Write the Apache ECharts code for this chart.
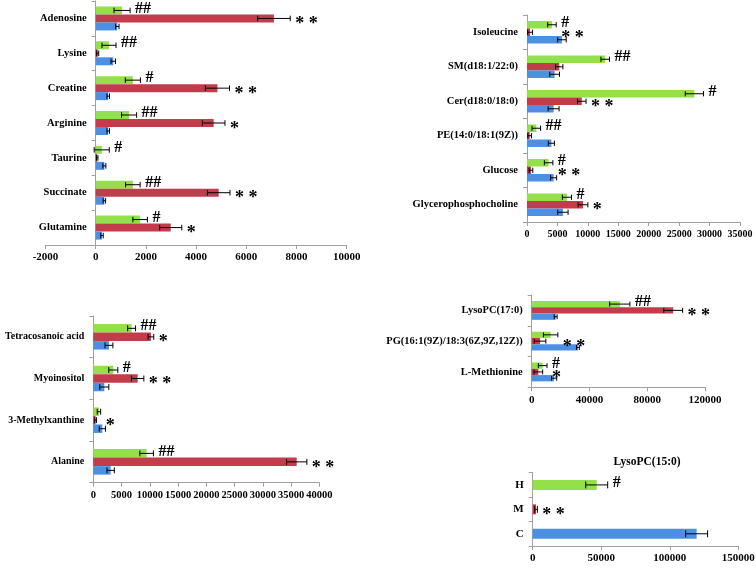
<!DOCTYPE html>
<html><head><meta charset="utf-8">
<script src="https://cdn.jsdelivr.net/npm/echarts/dist/echarts.min.js"></script>
<style>html,body{margin:0;padding:0;background:#fff}#c{width:756px;height:572px}</style>
</head><body><div id="c"></div><script>
// ---- Panel A ----
const catA = ['Adenosine','Lysine','Creatine','Arginine','Taurine','Succinate','Glutamine'];
const hA = [1050, 530, 1480, 1330, 240, 1480, 1770];
const hAerr = [320, 280, 300, 300, 300, 290, 290];
const mA = [7100, 80, 4850, 4700, 60, 4900, 2990];
const mAerr = [650, 40, 480, 450, 30, 450, 440];
const cA = [860, 700, 500, 500, 345, 345, 250];
const cAerr = [70, 90, 50, 50, 60, 50, 50];
const hAsig = ['##','##','#','##','#','##','#'];
const mAsig = ['**','','**','*','','**','*'];
const ticksA = {min:-2000, max:10000, interval:2000};
// ---- Panel B ----
const catB = ['Isoleucine','SM(d18:1/22:0)','Cer(d18:0/18:0)','PE(14:0/18:1(9Z))','Glucose','Glycerophosphocholine'];
const hB = [4100, 12850, 27500, 1530, 3550, 6560];
const hBerr = [700, 700, 1500, 700, 700, 750];
const mB = [500, 5300, 9000, 440, 650, 9200];
const mBerr = [400, 600, 700, 300, 300, 800];
const cB = [5740, 4540, 4370, 4000, 4370, 5900];
const cBerr = [700, 800, 900, 500, 500, 850];
const hBsig = ['#','##','#','##','#','#'];
const mBsig = ['**','','**','','**','*'];
const ticksB = {min:0, max:35000, interval:5000};
// ---- Panel C ----
const catC = ['Tetracosanoic acid','Myoinositol','3-Methylxanthine','Alanine'];
const hC = [6780, 3540, 1000, 9440];
const hCerr = [700, 800, 300, 1200];
const mC = [10200, 7850, 400, 36000];
const mCerr = [500, 1100, 150, 1800];
const cC = [2770, 1950, 1600, 3070];
const cCerr = [700, 800, 550, 650];
const hCsig = ['##','#','','##'];
const mCsig = ['*','**','*','**'];
const ticksC = {min:0, max:40000, interval:5000};
// ---- Panel D ----
const catD = ['LysoPC(17:0)','PG(16:1(9Z)/18:3(6Z,9Z,12Z))','L-Methionine'];
const hD = [61000, 13100, 7600];
const hDerr = [7000, 5000, 3000];
const mD = [98000, 5800, 4600];
const mDerr = [6500, 4000, 3000];
const cD = [16600, 32000, 15500];
const cDerr = [1000, 1000, 1800];
const hDsig = ['##','','#'];
const mDsig = ['**','**','*'];
const ticksD = {min:0, max:120000, interval:40000};
// ---- Panel E ----
const titleE = 'LysoPC(15:0)';
const catE = ['H','M','C'];
const valE = [46700, 2400, 119600];
const errE = [8000, 1000, 8000];
const sigE = ['#','**',''];
const ticksE = {min:0, max:150000, interval:50000};

const COLORS = ['#93e04b','#c23c4c','#4d8fe3'];
const FONT = '"Liberation Serif","Times New Roman",serif';
const AX = '#a0a0a0';

const panels = [
  {cats:catA, vals:[hA,mA,cA], errs:[hAerr,mAerr,cAerr], sigs:[hAsig,mAsig,null], t:ticksA, grid:{left:45.5,top:1,width:301.2,height:244}, bw:8, xfs:11, yfs:10.5},
  {cats:catB, vals:[hB,mB,cB], errs:[hBerr,mBerr,cBerr], sigs:[hBsig,mBsig,null], t:ticksB, grid:{left:527,top:15,width:213,height:207}, bw:7.5, xfs:10, yfs:10.5},
  {cats:catC, vals:[hC,mC,cC], errs:[hCerr,mCerr,cCerr], sigs:[hCsig,mCsig,null], t:ticksC, grid:{left:93.3,top:316,width:226,height:166.7}, bw:8.5, xfs:10.5, yfs:10},
  {cats:catD, vals:[hD,mD,cD], errs:[hDerr,mDerr,cDerr], sigs:[hDsig,mDsig,null], t:ticksD, grid:{left:531.7,top:295,width:173.3,height:92.3}, bw:6.3, xfs:11, yfs:10.5}
];

const option = {animation:false, grid:[], xAxis:[], yAxis:[], series:[],
  graphic:[{type:'text', x:647, y:462, style:{text:titleE, font:'bold 11.5px '+FONT, fill:'#000', align:'center', verticalAlign:'middle'}}]};

function axes(gi, p, cats){
  option.grid.push(Object.assign({containLabel:false, outerBoundsMode:'none'}, p.grid));
  option.xAxis.push({gridIndex:gi, type:'value', min:p.t.min, max:p.t.max, interval:p.t.interval,
    splitLine:{show:false}, axisLine:{show:true, onZero:false, lineStyle:{color:AX}},
    axisTick:{show:true, length:4, lineStyle:{color:AX}},
    axisLabel:{color:'#000', fontFamily:FONT, fontWeight:'bold', fontSize:p.xfs, margin:7,
      formatter: v => String(v)}});
  // category axis sits on the value 0 line
  const zeroOff = -(0 - p.t.min) / (p.t.max - p.t.min) * p.grid.width;
  option.yAxis.push({gridIndex:gi, type:'category', data:cats, inverse:true, offset:zeroOff,
    axisLine:{show:true, onZero:false, lineStyle:{color:AX}}, axisTick:{show:true, length:4, lineStyle:{color:AX}},
    axisLabel:{color:'#000', fontFamily:FONT, fontWeight:'bold', fontSize:p.yfs || 11, margin:9, interval:0}});
}

function overlay(gi, items, bw, nS){
  return {type:'custom', xAxisIndex:gi, yAxisIndex:gi, clip:false, silent:true, z:10,
    data: items.map(it=>[it.v, it.cat]), encode:{x:0, y:1},
    renderItem(params, api){
      const it = items[params.dataIndex];
      const c = api.coord([it.v, it.cat]);
      const yc = c[1] + (it.k - (nS-1)/2)*bw;
      const xl = api.coord([it.v - it.e, it.cat])[0];
      const xr = api.coord([it.v + it.e, it.cat])[0];
      const cap = Math.max(2.5, bw*0.35);
      const ls = {stroke:'#000', lineWidth:1};
      const ch = [
        {type:'line', shape:{x1:xl,y1:yc,x2:xr,y2:yc}, style:ls},
        {type:'line', shape:{x1:xl,y1:yc-cap,x2:xl,y2:yc+cap}, style:ls},
        {type:'line', shape:{x1:xr,y1:yc-cap,x2:xr,y2:yc+cap}, style:ls}
      ];
      if (it.sig){
        const ax = api.coord([it.anchor, it.cat])[0] + 5;
        const star = it.sig.indexOf('*') >= 0;
        ch.push({type:'text', x:ax, y:yc + (star ? 6 : -2),
          style:{text: star ? it.sig.split('').join(' ') : it.sig,
                 font: star ? 'bold 18px '+FONT : 'bold 16px '+FONT,
                 fill:'#000', align:'left', verticalAlign:'middle'}});
      }
      return {type:'group', children:ch};
    }};
}

panels.forEach((p, gi) => {
  axes(gi, p, p.cats);
  const items = [];
  for (let k = 0; k < 3; k++){
    option.series.push({type:'bar', xAxisIndex:gi, yAxisIndex:gi, data:p.vals[k], barWidth:p.bw, barGap:'0%',
      itemStyle:{color:COLORS[k]}});
    p.vals[k].forEach((v, i) => {
      let anchor = v + p.errs[k][i];
      // middle-bar marks are set clear of the shorter neighbouring bar
      if (k === 1) anchor = Math.max(anchor, Math.min(p.vals[0][i] + p.errs[0][i], p.vals[2][i] + p.errs[2][i]));
      items.push({cat:i, k:k, v:v, e:p.errs[k][i], sig:p.sigs[k] ? p.sigs[k][i] : '', anchor:anchor});
    });
  }
  option.series.push(overlay(gi, items, p.bw, 3));
});

// Panel E
const pE = {t:ticksE, grid:{left:532.7,top:472.7,width:205.6,height:73.3}, xfs:11, yfs:11};
axes(4, pE, catE);
option.series.push({type:'bar', xAxisIndex:4, yAxisIndex:4, barWidth:10,
  data: valE.map((v,i)=>({value:v, itemStyle:{color:COLORS[i]}}))});
option.series.push(overlay(4, valE.map((v,i)=>({cat:i, k:0, v:v, e:errE[i], sig:sigE[i], anchor:v+errE[i]})), 10, 1));

const chart = echarts.init(document.getElementById('c'), null, {renderer:'canvas'});
chart.setOption(option);
</script></body></html>
